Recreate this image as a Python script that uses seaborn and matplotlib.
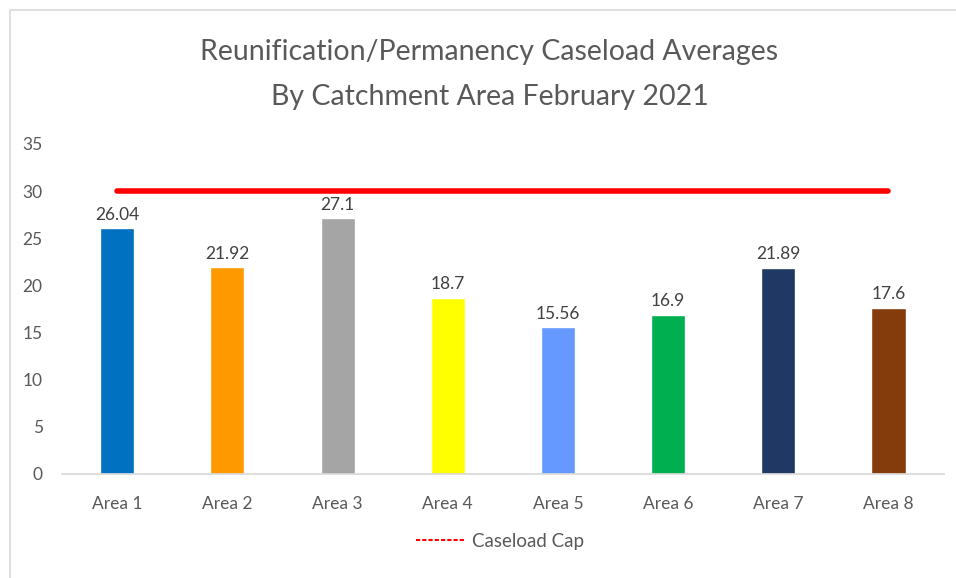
import matplotlib
matplotlib.use("Agg")
import matplotlib.pyplot as plt
import seaborn as sns
import pandas as pd
from matplotlib.lines import Line2D
from matplotlib.patches import Rectangle

areas = ["Area 1", "Area 2", "Area 3", "Area 4", "Area 5", "Area 6", "Area 7", "Area 8"]
averages = [26.04, 21.92, 27.1, 18.7, 15.56, 16.9, 21.89, 17.6]
cap = [30, 30, 30, 30, 30, 30, 30, 30]
colors = ["#0070C0", "#FF9900", "#A5A5A5", "#FFFF00", "#6699FF", "#00B050", "#1F3864", "#843C0C"]

df = pd.DataFrame({"area": areas, "avg": averages, "cap": cap})

sns.set_theme(style="white")
plt.rcParams["font.family"] = ["Lato", "DejaVu Sans"]
text_col = "#595959"

fig = plt.figure(figsize=(9.56, 5.78), dpi=100)
ax = fig.add_axes([0.065, 0.18, 0.922, 0.571])

fig.patches.append(Rectangle((10 / 956, -0.1), 1.2, 1 - 10 / 578 + 0.1,
                             transform=fig.transFigure, fill=False,
                             edgecolor="#D9D9D9", linewidth=1.2))

sns.barplot(data=df, x="area", y="avg", hue="area", palette=colors,
            width=0.31, legend=False, ax=ax, saturation=1)
sns.lineplot(data=df, x="area", y="cap", color="#FF0000", linewidth=4, ax=ax)

for i, v in enumerate(averages):
    ax.text(i, v + 0.6, f"{v:g}", ha="center", va="bottom", fontsize=12.5, color="#404040")

ax.set_ylim(0, 35)
ax.set_xlim(-0.5, 7.5)
ax.set_yticks(range(0, 36, 5))
ax.set_xlabel("")
ax.set_ylabel("")
ax.tick_params(axis="both", labelsize=12.5, colors=text_col, length=0)
ax.tick_params(axis="x", pad=16)
ax.tick_params(axis="y", pad=14)
for s in ["top", "right", "left"]:
    ax.spines[s].set_visible(False)
ax.spines["bottom"].set_color("#D9D9D9")

fig.text(0.512, 0.91, "Reunification/Permanency Caseload Averages", ha="center",
         va="center", fontsize=20.5, color=text_col)
fig.text(0.512, 0.832, "By Catchment Area February 2021", ha="center",
         va="center", fontsize=20.5, color=text_col)

handle = Line2D([], [], color="#FF0000", linestyle=(0, (2, 1)), linewidth=1.5)
fig.legend([handle], ["Caseload Cap"], loc="center", bbox_to_anchor=(0.523, 0.064),
           frameon=False, fontsize=13.5, handlelength=2.6, handletextpad=0.4,
           labelcolor=text_col)

plt.savefig("out.png", dpi=100)
